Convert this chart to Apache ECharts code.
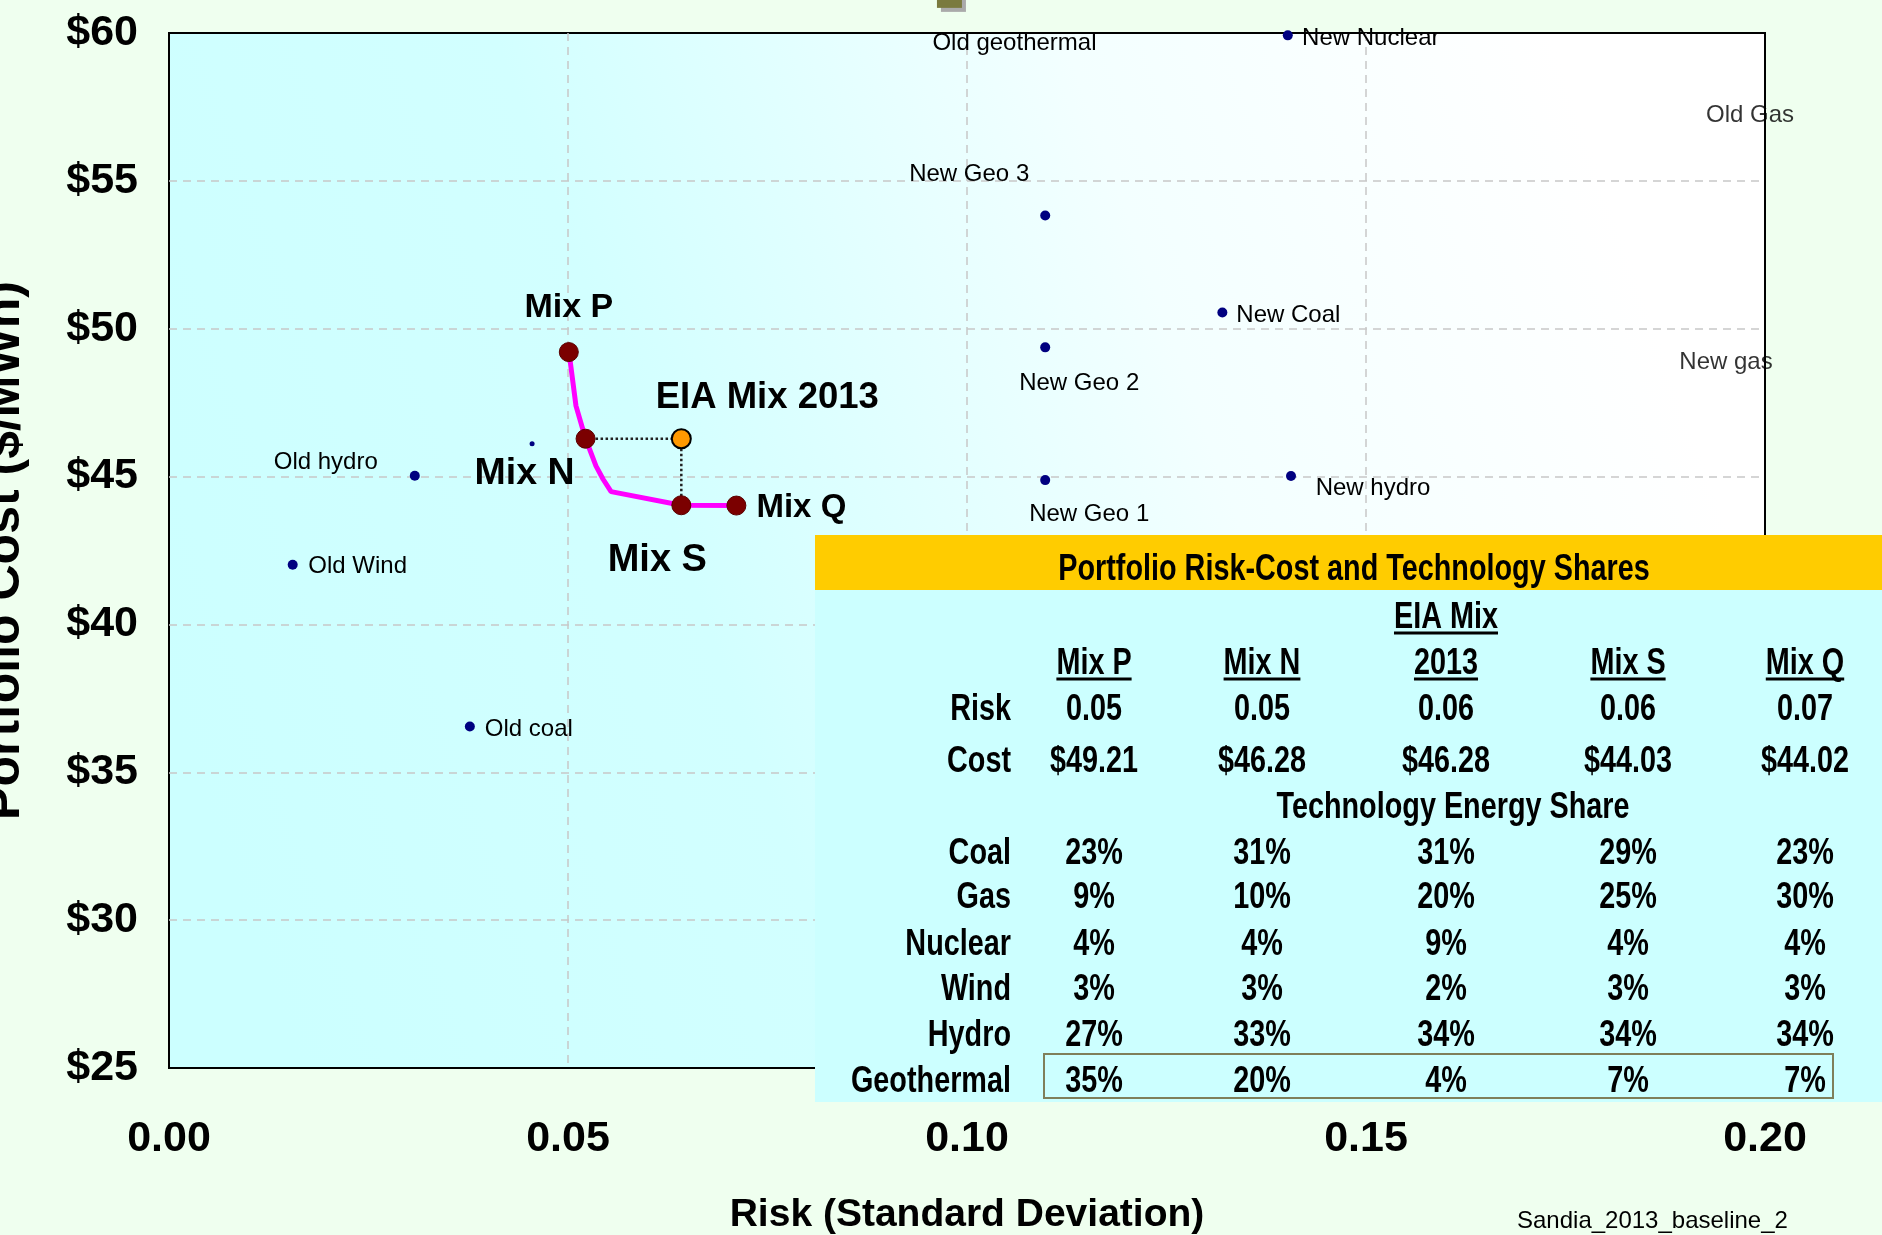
<!DOCTYPE html>
<html>
<head>
<meta charset="utf-8">
<script src="https://cdn.jsdelivr.net/npm/echarts@6/dist/echarts.min.js"></script>
<style>
  html, body { margin: 0; padding: 0; background: #EFFFEF; }
  #chart { width: 1882px; height: 1235px; }
</style>
</head>
<body>
<div id="chart"></div>
<script>
// ---- Individual generating technologies: risk (std. dev.) vs. cost ($/MWh) ----
const techNames = ['Old Wind', 'Old hydro', 'Old coal', 'New Geo 3', 'New Geo 2', 'New Geo 1', 'New Coal', 'New hydro', 'New Nuclear'];
const techRisk  = [0.0155, 0.0308, 0.0377, 0.1098, 0.1098, 0.1098, 0.1320, 0.1406, 0.1402];
const techCost  = [42.02, 45.03, 36.55, 53.83, 49.37, 44.88, 50.55, 45.02, 59.92];

// Gas technologies sit at the right edge of the risk axis
const edgeNames = ['Old Gas', 'New gas'];
const edgeRisk  = [0.20, 0.20];
const edgeCost  = [57.33, 48.96];

// Old geothermal lies above the top of the cost axis
const oldGeoName = 'Old geothermal';
const oldGeoRisk = 0.0978;
const oldGeoCost = 61.12;

// Small unlabelled point left of Mix N
const extraRisk = [0.0455];
const extraCost = [46.11];

// ---- Efficient frontier ----
const frontierRisk = [0.0501, 0.0503, 0.0510, 0.0522, 0.0535, 0.0544, 0.0554, 0.0642, 0.0711];
const frontierCost = [49.21, 48.85, 47.39, 46.28, 45.36, 44.91, 44.49, 44.03, 44.02];

// ---- Portfolio mixes ----
const mixNames   = ['Mix P', 'Mix N', 'EIA Mix 2013', 'Mix S', 'Mix Q'];
const mixHeaders = ['Mix P', 'Mix N', '2013', 'Mix S', 'Mix Q'];
const mixRisk    = [0.0501, 0.0522, 0.0642, 0.0642, 0.0711];
const mixCost    = [49.21, 46.28, 46.28, 44.03, 44.02];

// Technology energy shares (%) per mix, in mixHeaders order
const shareTechs = ['Coal', 'Gas', 'Nuclear', 'Wind', 'Hydro', 'Geothermal'];
const shareMixP  = [23, 9, 4, 3, 27, 35];
const shareMixN  = [31, 10, 4, 3, 33, 20];
const shareEIA   = [31, 20, 9, 2, 34, 4];
const shareMixS  = [29, 25, 4, 3, 34, 7];
const shareMixQ  = [23, 30, 4, 3, 34, 7];
const shareCols  = [shareMixP, shareMixN, shareEIA, shareMixS, shareMixQ];

// Axis ticks
const xTicks = { min: 0, max: 0.20, step: 0.05 };
const yTicks = { min: 25, max: 60, step: 5 };

// ---- label placement (pixel offsets from the point centre) ----
const techLabelOffset = {
  'Old Wind': [65, 2], 'Old hydro': [-89, -13], 'Old coal': [59, 3],
  'New Geo 3': [-76, -41], 'New Geo 2': [34, 36], 'New Geo 1': [44, 34],
  'New Coal': [66, 3], 'New hydro': [82, 12], 'New Nuclear': [83, 3]
};
const edgeLabelOffset = { 'Old Gas': [-15, 3], 'New gas': [-39, 3] };
const mixLabelStyle = {
  'Mix P': { offset: [0, -44], size: 34 },
  'Mix N': { offset: [-61, 35], size: 37.5 },
  'EIA Mix 2013': { offset: [86, -41], size: 36.5 },
  'Mix S': { offset: [-24, 55], size: 38 },
  'Mix Q': { offset: [65, 2], size: 33 }
};

const FONT = '"Liberation Sans", Arial, Helvetica, sans-serif';
const zip = (a, b) => a.map((v, i) => [v, b[i]]);
const noBorder = { textBorderWidth: 0, textBorderColor: 'transparent' };

const chart = echarts.init(document.getElementById('chart'), null, { renderer: 'canvas' });

// ---- summary table drawn over the lower right of the plot ----
const tbl = {
  left: 815, right: 1882, bandTop: 535, bandBottom: 590, bottom: 1102,
  colX: [1094, 1262, 1446, 1628, 1805], rowLabelX: 1011,
  titleX: 1354, titleY: 570, eiaY: 618, headY: 664, riskY: 710, costY: 762,
  techY: 808, shareY: [854, 898, 945, 990, 1036, 1082], squeeze: 0.8, size: 36
};
const measure = (() => {
  const ctx = document.createElement('canvas').getContext('2d');
  return (s, size, weight) => { ctx.font = `${weight} ${size}px ${FONT}`; return ctx.measureText(s).width; };
})();
function tText(str, x, y, align) {
  return {
    type: 'text', x: x, y: y, scaleX: tbl.squeeze, z: 110,
    style: { text: str, x: 0, y: 0, align: align || 'center', verticalAlign: 'middle',
             fontSize: tbl.size, fontWeight: 'bold', fontFamily: FONT, fill: '#000' }
  };
}
function underline(str, cx, y) {
  const w = measure(str, tbl.size, 'bold') * tbl.squeeze;
  return { type: 'rect', z: 110, shape: { x: cx - w / 2, y: y - 1.5, width: w, height: 3 }, style: { fill: '#000' } };
}
const tableEls = [
  { type: 'rect', z: 100, shape: { x: tbl.left, y: tbl.bandTop, width: tbl.right - tbl.left, height: tbl.bandBottom - tbl.bandTop }, style: { fill: '#FFCC00' } },
  { type: 'rect', z: 100, shape: { x: tbl.left, y: tbl.bandBottom, width: tbl.right - tbl.left, height: tbl.bottom - tbl.bandBottom }, style: { fill: '#CCFFFF' } },
  tText('Portfolio Risk-Cost and Technology Shares', tbl.titleX, tbl.titleY),
  tText('EIA Mix', tbl.colX[2], tbl.eiaY),
  underline('EIA Mix', tbl.colX[2], tbl.eiaY + 15),
  tText('Risk', tbl.rowLabelX, tbl.riskY, 'right'),
  tText('Cost', tbl.rowLabelX, tbl.costY, 'right'),
  tText('Technology Energy Share', 1453, tbl.techY),
  { type: 'rect', z: 105, shape: { x: 1044, y: 1054, width: 789, height: 44 }, style: { fill: 'none', stroke: '#7f7f5a', lineWidth: 2 } }
];
mixHeaders.forEach((h, i) => {
  const x = tbl.colX[i];
  tableEls.push(tText(h, x, tbl.headY));
  tableEls.push(underline(h, x, tbl.headY + 15));
  tableEls.push(tText(mixRisk[i].toFixed(2), x, tbl.riskY));
  tableEls.push(tText('$' + mixCost[i].toFixed(2), x, tbl.costY));
  shareCols[i].forEach((v, r) => tableEls.push(tText(v + '%', x, tbl.shareY[r])));
});
shareTechs.forEach((t, r) => tableEls.push(tText(t, tbl.rowLabelX, tbl.shareY[r], 'right')));
tableEls.push({
  type: 'text', x: 1517, y: 1221, z: 110,
  style: { text: 'Sandia_2013_baseline_2', align: 'left', verticalAlign: 'middle', fontSize: 24, fontFamily: FONT, fill: '#000' }
});

// ---- series ----
const techData = techNames.map((n, i) => ({
  name: n, value: [techRisk[i], techCost[i]], label: { offset: techLabelOffset[n] }
}));
const edgeData = edgeNames.map((n, i) => ({
  name: n, value: [edgeRisk[i], edgeCost[i]], label: { offset: edgeLabelOffset[n] }
}));
const mixData = mixNames.map((n, i) => ({
  name: n, value: [mixRisk[i], mixCost[i]],
  itemStyle: n === 'EIA Mix 2013'
    ? { color: '#FF9900', borderColor: '#000', borderWidth: 2 }
    : { color: '#7B0000', borderColor: '#5a0000', borderWidth: 1 },
  label: { offset: mixLabelStyle[n].offset, fontSize: mixLabelStyle[n].size }
}));

const pointLabel = {
  show: true, position: 'inside', formatter: '{b}', color: '#000',
  fontSize: 24, fontFamily: FONT, ...noBorder
};
const gridLine = { show: true, showMinLine: false, showMaxLine: false,
                   lineStyle: { color: '#c8c8c8', width: 1.5, type: [8, 6] } };

const option = {
  backgroundColor: '#EFFFEF',
  animation: false,
  textStyle: { fontFamily: FONT },
  grid: {
    left: 169, right: 117, top: 33, bottom: 167, show: true,
    containLabel: false, outerBoundsMode: 'none',
    borderColor: '#000', borderWidth: 2,
    backgroundColor: new echarts.graphic.LinearGradient(0, 0.65, 0.9, 0.15, [
      { offset: 0, color: '#CCFFFF' },
      { offset: 0.35, color: '#D2FFFF' },
      { offset: 0.7, color: '#F3FFFF' },
      { offset: 1, color: '#FFFFFF' }
    ])
  },
  xAxis: {
    type: 'value', min: xTicks.min, max: xTicks.max, interval: xTicks.step,
    name: 'Risk (Standard Deviation)', nameLocation: 'middle', nameGap: 128,
    nameTextStyle: { fontSize: 39, fontWeight: 'bold', color: '#000', fontFamily: FONT },
    axisLine: { show: false }, axisTick: { show: false },
    axisLabel: { fontSize: 43, fontWeight: 'bold', color: '#000', margin: 50, formatter: v => v.toFixed(2) },
    splitLine: gridLine
  },
  yAxis: {
    type: 'value', min: yTicks.min, max: yTicks.max, interval: yTicks.step,
    name: 'Portfolio Cost ($/MWh)', nameLocation: 'middle', nameGap: 139, nameRotate: 90,
    nameTextStyle: { fontSize: 50, fontWeight: 'bold', color: '#000', fontFamily: FONT },
    axisLine: { show: false }, axisTick: { show: false },
    axisLabel: { fontSize: 43, fontWeight: 'bold', color: '#000', margin: 31, formatter: v => '$' + v },
    splitLine: gridLine
  },
  graphic: tableEls,
  series: [
    {
      name: 'Efficient frontier', type: 'line', z: 3, symbol: 'none', silent: true,
      data: zip(frontierRisk, frontierCost),
      lineStyle: { color: '#FF00FF', width: 5 }
    },
    {
      name: 'Mix N to EIA', type: 'line', z: 3, symbol: 'none', silent: true,
      data: [[mixRisk[1], mixCost[1]], [mixRisk[2], mixCost[2]]],
      lineStyle: { color: '#222', width: 2.5, type: [2.5, 2.5] }
    },
    {
      name: 'EIA to Mix S', type: 'line', z: 3, symbol: 'none', silent: true,
      data: [[mixRisk[2], mixCost[2]], [mixRisk[3], mixCost[3]]],
      lineStyle: { color: '#222', width: 2.5, type: [2.5, 2.5] }
    },
    {
      name: 'Technologies', type: 'scatter', z: 4, symbolSize: 10,
      itemStyle: { color: '#000080', opacity: 1 }, label: pointLabel, data: techData
    },
    {
      name: 'Gas', type: 'scatter', z: 4, symbolSize: 0, clip: false,
      label: pointLabel, data: edgeData
    },
    {
      name: 'Old geothermal', type: 'scatter', z: 4, clip: false,
      symbol: 'rect', symbolSize: [25, 16],
      itemStyle: { color: '#7A7A3E', opacity: 1, shadowColor: '#aaaaaa', shadowBlur: 0, shadowOffsetX: 4, shadowOffsetY: 4 },
      label: { ...pointLabel, offset: [65, 43] },
      data: [{ name: oldGeoName, value: [oldGeoRisk, oldGeoCost] }]
    },
    {
      name: 'Other', type: 'scatter', z: 4, symbolSize: 5,
      itemStyle: { color: '#000080', opacity: 1 }, data: zip(extraRisk, extraCost)
    },
    {
      name: 'Mixes', type: 'scatter', z: 5, symbolSize: 19,
      itemStyle: { opacity: 1 },
      label: { ...pointLabel, fontWeight: 'bold' },
      data: mixData
    }
  ]
};
chart.setOption(option);
</script>
</body>
</html>
